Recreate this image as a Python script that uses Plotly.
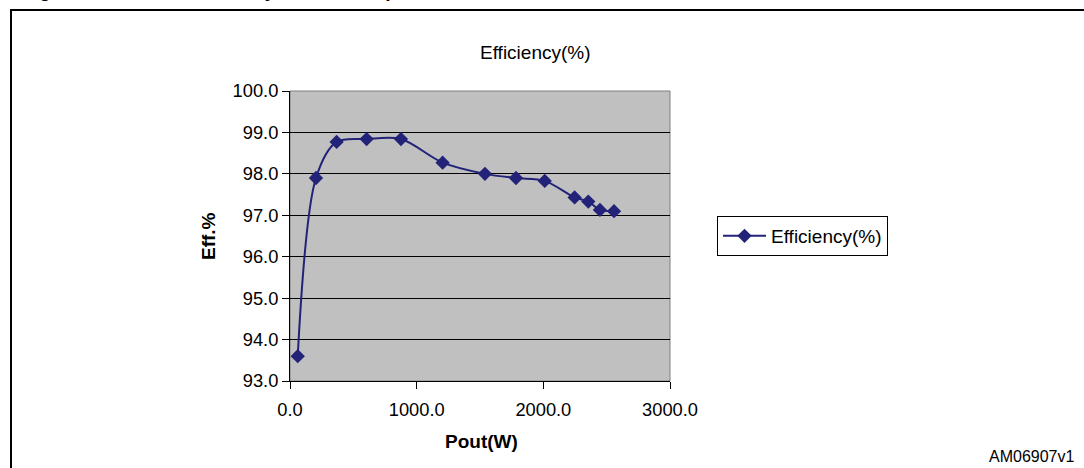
import plotly.graph_objects as go

pout_w = [61, 205, 368, 605, 876, 1205, 1539, 1784, 2011, 2247, 2355, 2447, 2558]
efficiency = [93.6, 97.9, 98.77, 98.84, 98.84, 98.27, 98.0, 97.9, 97.83, 97.43, 97.33, 97.13, 97.1]
x_ticks = [0, 1000, 2000, 3000]
x_tick_labels = ["0.0", "1000.0", "2000.0", "3000.0"]
y_ticks = [93, 94, 95, 96, 97, 98, 99, 100]
y_tick_labels = ["93.0", "94.0", "95.0", "96.0", "97.0", "98.0", "99.0", "100.0"]

FONT = "Liberation Sans, Arial, sans-serif"
NAVY = "#222278"

fig = go.Figure()
fig.add_trace(go.Scatter(
    x=pout_w, y=efficiency, mode="lines+markers", name="Efficiency(%)",
    line=dict(color=NAVY, width=2, shape="spline", smoothing=0.9),
    marker=dict(symbol="diamond", size=11, color=NAVY),
))

L, R, T, B = 290, 670, 91, 381
W, H = 1084, 468

def px_x(p):
    return (p - L) / (R - L)

def px_y(p):
    return (B - p) / (B - T)

def ann(text, x, y, size=19, angle=0, xanchor="center", yanchor="middle"):
    return dict(text=text, x=px_x(x), y=px_y(y), xref="paper", yref="paper",
                xanchor=xanchor, yanchor=yanchor, showarrow=False,
                textangle=angle, font=dict(size=size, family=FONT, color="black"))

fig.update_layout(
    width=W, height=H,
    margin=dict(l=L, r=W - R, t=T, b=H - B, pad=0),
    paper_bgcolor="white", plot_bgcolor="#C0C0C0",
    font=dict(family=FONT, color="black", size=18),
    showlegend=True,
    legend=dict(
        x=px_x(717), y=px_y(216), xanchor="left", yanchor="top",
        bordercolor="black", borderwidth=1, bgcolor="white",
        font=dict(size=19, family=FONT), itemwidth=43,
        tracegroupgap=0,
    ),
    xaxis=dict(
        range=[0, 3000], tickvals=x_ticks, ticktext=x_tick_labels,
        showgrid=False, zeroline=False, showline=True, linecolor="black", linewidth=1,
        ticks="outside", ticklen=7, tickcolor="black", tickfont=dict(size=18.3),
        ticklabelstandoff=5, fixedrange=True,
    ),
    yaxis=dict(
        range=[93, 100], tickvals=y_ticks, ticktext=y_tick_labels,
        showgrid=True, gridcolor="black", gridwidth=1, zeroline=False,
        showline=True, linecolor="black", linewidth=1,
        ticks="outside", ticklen=7, tickcolor="black", tickfont=dict(size=18.3),
        fixedrange=True,
    ),
    shapes=[
        dict(type="rect", xref="paper", yref="paper", x0=0, x1=1, y0=0, y1=1,
             line=dict(color="#808080", width=1), layer="below"),
        dict(type="rect", xref="paper", yref="paper",
             x0=px_x(11), x1=px_x(1200), y0=px_y(600), y1=px_y(10),
             line=dict(color="black", width=2)),
    ],
    annotations=[
        ann("Efficiency(%)", 535, 52),
        ann("<b>Eff.%</b>", 208, 236, angle=-90),
        ann("<b>Pout(W)</b>", 481, 441),
        ann("AM06907v1", 1031, 456, size=16),
        ann("<b>Figure 3. Inductor efficiency curve vs. input</b>", 20, 3.5,
            xanchor="left", yanchor="bottom"),
    ],
)

fig.write_html("out.html")
